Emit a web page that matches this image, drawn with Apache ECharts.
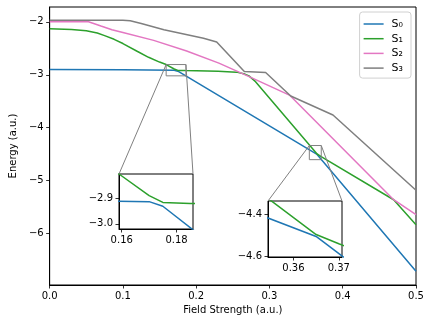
<!DOCTYPE html>
<html>
<head>
<meta charset="utf-8">
<script src="https://cdn.jsdelivr.net/npm/echarts@6/dist/echarts.min.js"></script>
<style>
  html, body { margin: 0; padding: 0; background: #fff; }
  #chart { width: 432px; height: 324px; }
</style>
</head>
<body>
<div id="chart"></div>
<script>
// state names and colours
const stateNames = ['S\u2080', 'S\u2081', 'S\u2082', 'S\u2083'];
const stateColors = ['#1f77b4', '#2ca02c', '#e377c2', '#7f7f7f'];

// [field strength, energy]
const s0 = [[0, -2.90], [0.10, -2.906], [0.17, -2.914], [0.175, -2.932], [0.365, -4.505], [0.5, -6.71]];
const s1 = [[0, -2.13], [0.03, -2.145], [0.05, -2.17], [0.065, -2.21], [0.075, -2.26], [0.088, -2.33],
  [0.10, -2.41], [0.12, -2.56], [0.135, -2.67], [0.15, -2.76], [0.159, -2.807], [0.170, -2.891],
  [0.175, -2.917], [0.185, -2.921], [0.23, -2.935], [0.255, -2.95], [0.265, -2.98], [0.272, -3.02],
  [0.281, -3.13], [0.365, -4.496], [0.37, -4.54], [0.4695, -5.36], [0.5, -5.83]];
const s2 = [[0, -2.0], [0.053, -2.0], [0.07, -2.08], [0.085, -2.15], [0.10, -2.20], [0.142, -2.35],
  [0.187, -2.55], [0.231, -2.78], [0.2715, -3.03], [0.328, -3.39], [0.4695, -5.36], [0.5, -5.64]];
const s3 = [[0, -1.97], [0.10, -1.97], [0.11, -1.98], [0.125, -2.03], [0.156, -2.15], [0.21, -2.31],
  [0.228, -2.38], [0.2657, -2.94], [0.2948, -2.958], [0.329, -3.40], [0.3867, -3.76], [0.5, -5.18]];
const stateData = [s0, s1, s2, s3];

// axis limits and ticks
const mainX = [0, 0.5];
const mainY = [-6.97, -1.72];
const mainXTicks = [0, 0.1, 0.2, 0.3, 0.4, 0.5];
const mainYTicks = [-6, -5, -4, -3, -2];
const zoom1X = [0.159, 0.186];
const zoom1Y = [-3.02, -2.807];
const zoom1XTicks = [0.16, 0.18];
const zoom1YTicks = [-3.0, -2.9];
const zoom2X = [0.3544, 0.3707];
const zoom2Y = [-4.603, -4.336];
const zoom2XTicks = [0.36, 0.37];
const zoom2YTicks = [-4.6, -4.4];

const font = 'DejaVu Sans';
const minus = s => s.replace('-', '\u2212');

function makeAxis(gridIndex, range, ticks, digits, extra) {
  return Object.assign({
    type: 'value',
    gridIndex: gridIndex,
    min: range[0],
    max: range[1],
    axisLine: { show: true, onZero: false, lineStyle: { color: '#000', width: 1 } },
    axisTick: { show: true, length: 3.5, customValues: ticks, lineStyle: { color: '#000', width: 0.8 } },
    axisLabel: {
      customValues: ticks, margin: 6, fontSize: 10, fontFamily: font, color: '#000',
      formatter: v => minus(v.toFixed(digits))
    },
    splitLine: { show: false }
  }, extra || {});
}

const chart = echarts.init(document.getElementById('chart'), null, { renderer: 'canvas' });

const grids = [
  { left: 44, top: 7, width: 372, height: 278 },
  { left: 119, top: 174, width: 74, height: 55 },
  { left: 268, top: 201, width: 74, height: 56 }
].map(g => Object.assign(g, { show: true, backgroundColor: '#fff', borderColor: '#000', borderWidth: 1, containLabel: false }));

const xAxes = [
  makeAxis(0, mainX, mainXTicks, 1, {
    name: 'Field Strength (a.u.)', nameLocation: 'middle', nameGap: 19,
    nameTextStyle: { fontSize: 10, fontFamily: font, color: '#000' }
  }),
  makeAxis(1, zoom1X, zoom1XTicks, 2),
  makeAxis(2, zoom2X, zoom2XTicks, 2)
];
const yAxes = [
  makeAxis(0, mainY, mainYTicks, 0, {
    name: 'Energy (a.u.)', nameLocation: 'middle', nameGap: 29,
    nameTextStyle: { fontSize: 10, fontFamily: font, color: '#000' }
  }),
  makeAxis(1, zoom1Y, zoom1YTicks, 1),
  makeAxis(2, zoom2Y, zoom2YTicks, 1)
];

const series = [];
[0, 1, 2].forEach(g => {
  stateData.forEach((d, i) => {
    series.push({
      name: stateNames[i], type: 'line', xAxisIndex: g, yAxisIndex: g,
      data: d, symbol: 'none', clip: true,
      lineStyle: { color: stateColors[i], width: 1.5 },
      itemStyle: { color: stateColors[i] }
    });
  });
});

chart.setOption({
  animation: false,
  backgroundColor: '#fff',
  grid: grids,
  xAxis: xAxes,
  yAxis: yAxes,
  legend: {
    data: stateNames, orient: 'vertical', right: 21, top: 12,
    icon: 'path://M0,0H40V3H0Z',
    itemWidth: 20, itemHeight: 12, itemGap: 2.7,
    padding: [6, 8, 4, 4],
    borderColor: '#d0d0d0', borderWidth: 1, borderRadius: 3, backgroundColor: '#fff',
    textStyle: { fontSize: 11, lineHeight: 12, fontFamily: font, color: '#000', padding: [0, 0, 0, 3] }
  },
  series: series
});

// zoom boxes and connector lines, placed through the axes' own scales
const gfx = [];
[[zoom1X, zoom1Y, 1], [zoom2X, zoom2Y, 2]].forEach(([zx, zy, g]) => {
  const a = chart.convertToPixel({ xAxisIndex: 0, yAxisIndex: 0 }, [zx[0], zy[1]]);
  const b = chart.convertToPixel({ xAxisIndex: 0, yAxisIndex: 0 }, [zx[1], zy[0]]);
  const c = chart.convertToPixel({ xAxisIndex: g, yAxisIndex: g }, [zx[0], zy[1]]);
  const d = chart.convertToPixel({ xAxisIndex: g, yAxisIndex: g }, [zx[1], zy[1]]);
  const st = { stroke: '#808080', lineWidth: 1, fill: null };
  gfx.push({ type: 'rect', shape: { x: a[0], y: a[1], width: b[0] - a[0], height: b[1] - a[1] }, style: st, z: 5 });
  gfx.push({ type: 'line', shape: { x1: a[0], y1: a[1], x2: c[0], y2: c[1] }, style: st, z: 5 });
  gfx.push({ type: 'line', shape: { x1: b[0], y1: a[1], x2: d[0], y2: d[1] }, style: st, z: 5 });
});
chart.setOption({ graphic: gfx });
</script>
</body>
</html>
